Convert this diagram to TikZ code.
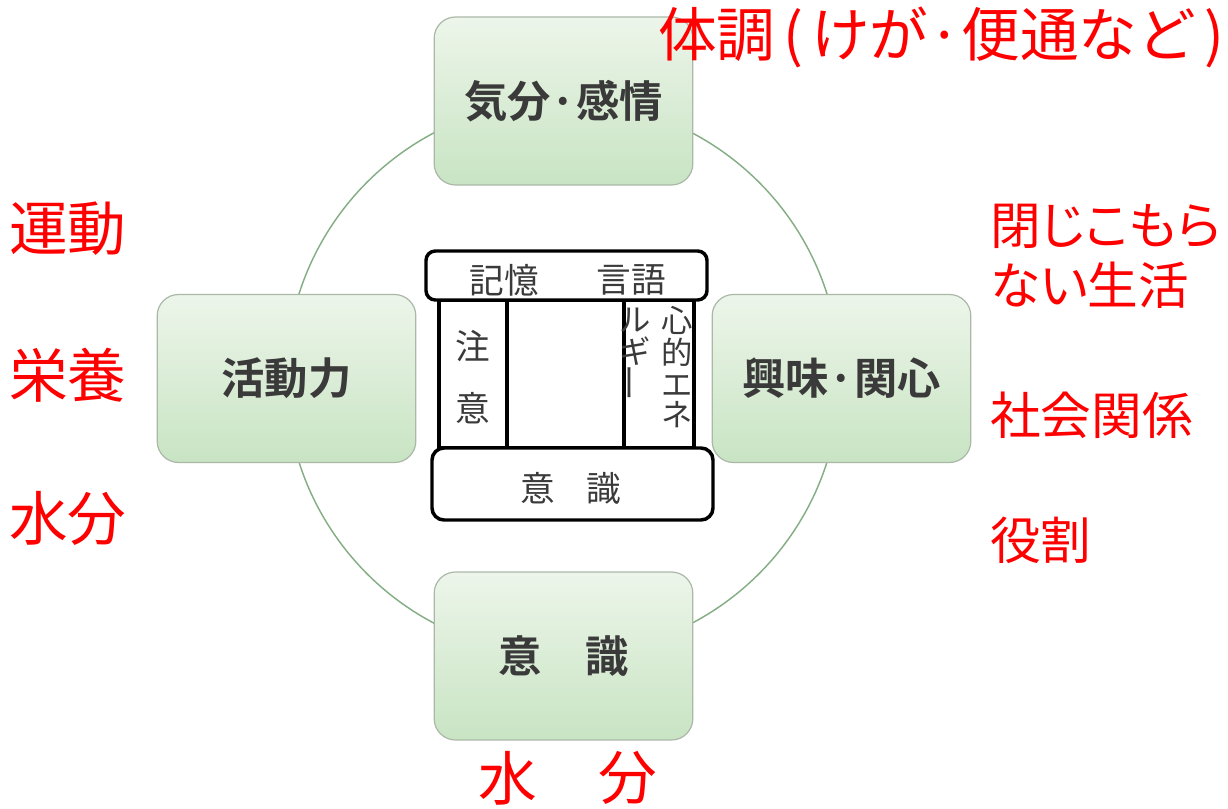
\documentclass[tikz,border=0pt]{standalone}
\usepackage{fontspec}
\newfontfamily\jp{Noto Sans CJK JP}
\newfontfamily\jpp[RawFeature=+palt]{Noto Sans CJK JP}
\newfontfamily\jpb{Noto Sans CJK JP Bold}
\definecolor{boxtop}{HTML}{EDF5EA}
\definecolor{boxbot}{HTML}{C8E4C3}
\definecolor{boxline}{HTML}{ABB8A8}
\definecolor{ringcol}{HTML}{86AE86}
\definecolor{txtgray}{HTML}{3A3A3A}
\tikzset{
  greenbox/.style={rounded corners=16pt, draw=boxline, line width=0.9pt,
    top color=boxtop, bottom color=boxbot, minimum width=194pt, minimum height=126pt,
    inner sep=0pt, font=\jpb\fontsize{32.5}{36}\selectfont, text=txtgray},
  framebox/.style={draw=black, line width=2.6pt, fill=white, rounded corners=7pt, inner sep=0pt},
  colbox/.style={draw=black, line width=2.6pt, fill=white, inner sep=0pt, minimum height=111pt},
  ctext/.style={font=\jp\fontsize{26}{28}\selectfont, text=txtgray, inner sep=0pt},
  vtext/.style={font=\jp\fontsize{23.5}{26}\selectfont, text=txtgray, inner sep=0pt},
  redtext/.style={font=\jp\fontsize{44}{48}\selectfont, text=red, inner sep=0pt},
  redtextr/.style={font=\jpp\fontsize{38}{44}\selectfont, text=red, inner sep=0pt, anchor=west},
}
\begin{document}
\begin{tikzpicture}[x=0.75pt,y=-0.75pt]
\useasboundingbox (0,0) rectangle (1228,809);
% ring
\node[circle, draw=ringcol, line width=1.1pt, minimum size=415.5pt, inner sep=0pt] (ring) at (563,378) {};
% green boxes
\node[greenbox] (mood) at (563.5,101) {気分·感情};
\node[greenbox] (act) at (286.5,378.5) {活動力};
\node[greenbox] (int) at (841.5,378.5) {興味·関心};
\node[greenbox] (cons) at (563.5,656) {意　識};
% center structure
\node[colbox, minimum width=51pt] (colL) at (473,374) {};
\node[colbox, minimum width=87.75pt] (colM) at (565.5,374) {};
\node[colbox, minimum width=52.5pt] (colR) at (659,374) {};
\node[framebox, minimum width=210.75pt, minimum height=36.75pt] (topb) at (566.5,275.5) {};
\node[framebox, rounded corners=9pt, minimum width=210.75pt, minimum height=54pt] (botb) at (572.5,484) {};
\node[ctext] (kioku) at (504,280) {記憶};
\node[ctext] (gengo) at (631,280) {言語};
\node[ctext] (chu) at (473,346) {注};
\node[ctext] (i1) at (473,408) {意};
\node[ctext] (i2) at (538,488) {意};
\node[ctext] (shiki) at (604,488) {識};
% vertical text
\node[vtext] (v1) at (677,320) {心};
\node[vtext] (v2) at (677,352) {的};
\node[vtext] (v3) at (677,386) {エ};
\node[vtext] (v4) at (677,415) {ネ};
\node[vtext] (v5) at (635,320) {ル};
\node[vtext] (v6) at (635,351) {ギ};
\node[vtext, rotate=90, xscale=1.2] (v7) at (635,383) {ー};
% red texts
\node[redtext] (taicho) at (941,37) {体調\hspace{6pt}(\hspace{6pt}けが·便通など\hspace{6pt})};
\node[redtext, anchor=west] (undo) at (9,229) {運動};
\node[redtext, anchor=west] (eiyo) at (9,375) {栄養};
\node[redtext, anchor=west] (suibunL) at (9,518) {水分};
\node[redtextr] (toji) at (990,226) {閉じこもら};
\node[redtextr] (nai) at (990,285) {ない生活};
\node[redtextr] (shakai) at (990,415) {社会関係};
\node[redtextr] (yaku) at (990,540) {役割};
\node[redtext] (sui) at (508,778) {水};
\node[redtext] (bun) at (628,778) {分};
\end{tikzpicture}
\end{document}
